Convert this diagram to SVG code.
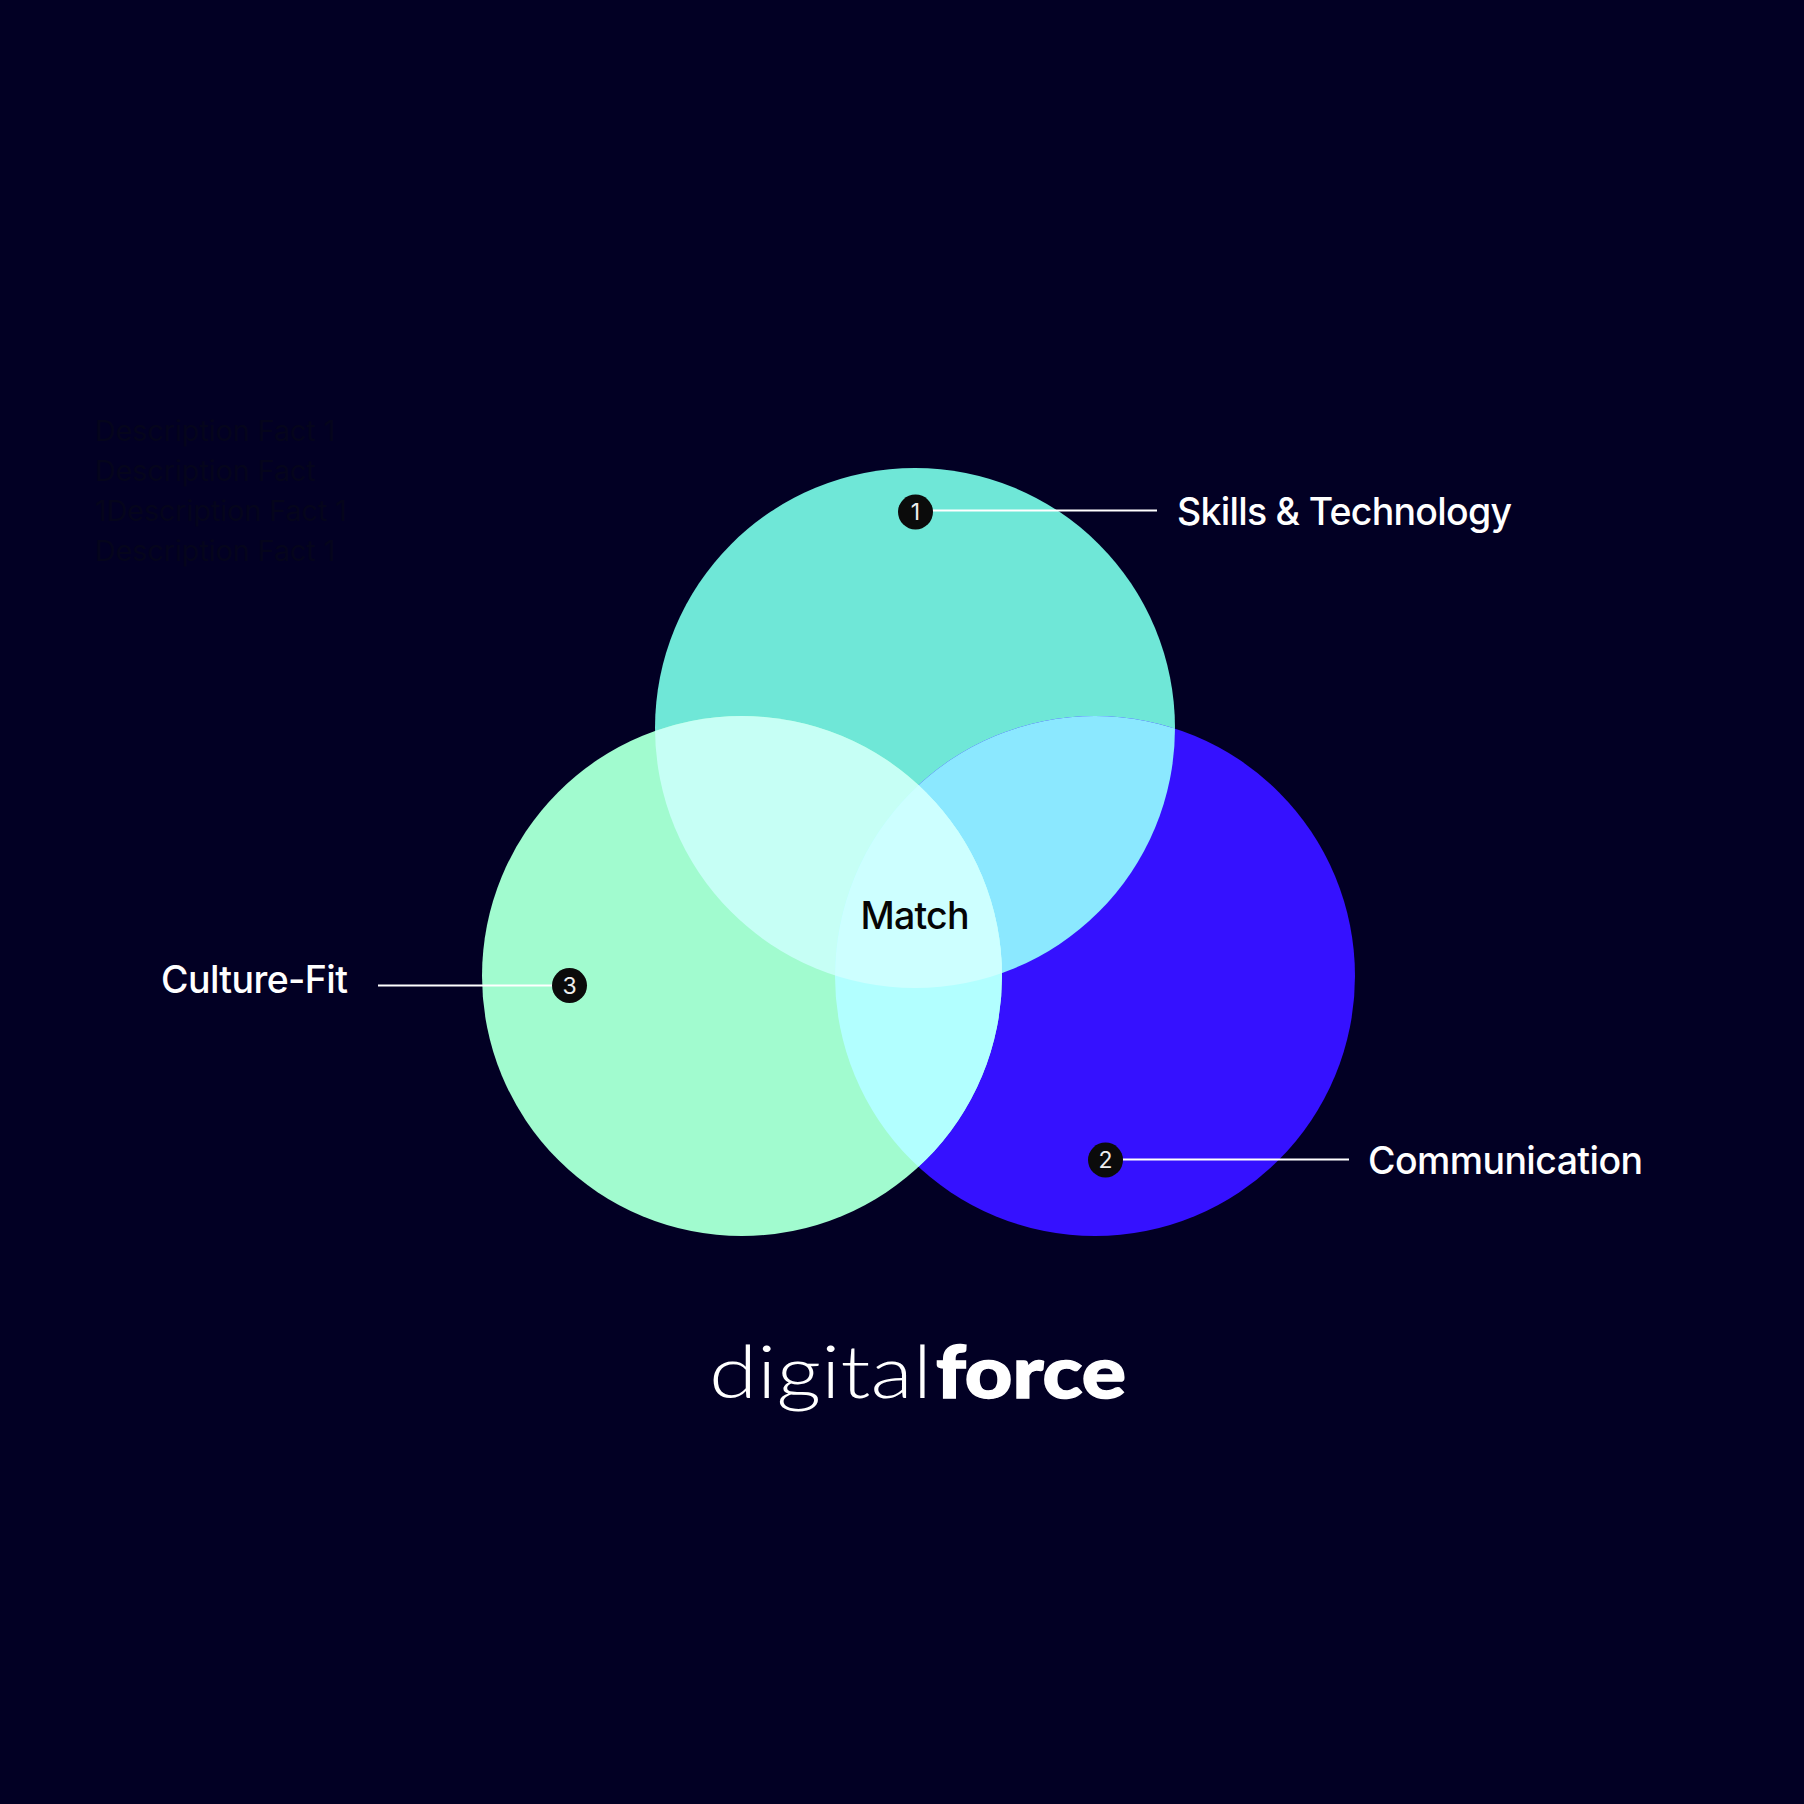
<svg xmlns="http://www.w3.org/2000/svg" width="1804" height="1804" viewBox="0 0 1804 1804">
<style>
.lab{font-family:Inter,"Liberation Sans",sans-serif;font-size:37.5px;fill:#fff;font-weight:500}
.num{font-family:Inter,"Liberation Sans",sans-serif;font-size:23px;fill:#eee;text-anchor:middle}
.bad{fill:#0b0b0b}
.lead{stroke:#fff;stroke-width:2;fill:none}
.desc{font-family:Inter,"Liberation Sans",sans-serif;font-size:28.600px;fill:#05051c}
</style>
<defs>
<clipPath id="cT"><circle cx="915" cy="728" r="260"/></clipPath>
<clipPath id="cR"><circle cx="1095" cy="976" r="260"/></clipPath>
</defs>
<rect width="1804" height="1804" fill="#020024"/>
<g id="description"><text class="desc" x="95" y="441">Description Fact 1</text><text class="desc" x="95" y="481">Description Fact</text><text class="desc" x="95" y="521">1Description Fact 1</text><text class="desc" x="95" y="561">Description Fact 1</text></g>
<g id="venn">
<circle id="circle-skills" cx="915" cy="728" r="260" fill="#6FE7D7"/>
<circle id="circle-communication" cx="1095" cy="976" r="260" fill="#3511FF"/>
<circle id="circle-culture" cx="742" cy="976" r="260" fill="#A1FBCF"/>
<g clip-path="url(#cT)"><circle cx="1095" cy="976" r="260" fill="#8BE8FF"/><circle cx="742" cy="976" r="260" fill="#C6FFF5"/></g>
<g clip-path="url(#cR)"><circle cx="742" cy="976" r="260" fill="#B2FFFF"/></g>
<g clip-path="url(#cT)"><g clip-path="url(#cR)"><circle cx="742" cy="976" r="260" fill="#CDFFFF"/></g></g>
</g>
<g id="connectors">
<line class="lead" x1="930" y1="510.500" x2="1157" y2="510.500"/>
<line class="lead" x1="1120" y1="1159.500" x2="1349" y2="1159.500"/>
<line class="lead" x1="378" y1="985.500" x2="555" y2="985.500"/>
</g>
<g id="node-1"><circle class="bad" cx="915.500" cy="512" r="17.500"/><text class="num" x="915.500" y="520">1</text><text class="lab" x="1177" y="525" textLength="335">Skills &amp; Technology</text></g>
<g id="node-2"><circle class="bad" cx="1105.500" cy="1160" r="17.500"/><text class="num" x="1105.500" y="1168">2</text><text class="lab" x="1368" y="1174" textLength="275">Communication</text></g>
<g id="node-3"><circle class="bad" cx="569.500" cy="985.500" r="17.500"/><text class="num" x="569.500" y="993.500">3</text><text class="lab" x="161" y="993" textLength="187">Culture-Fit</text></g>
<g id="node-match"><text x="915" y="929" text-anchor="middle" font-family="Inter,'Liberation Sans',sans-serif" font-size="37.5" font-weight="500" textLength="109" fill="#050505">Match</text></g>
<g id="logo"><text x="709" y="1398" font-family="Lato,'Open Sans',sans-serif" font-weight="300" font-size="73" fill="#fff" textLength="223" lengthAdjust="spacingAndGlyphs">digital</text><text x="936" y="1398" font-family="Lato,'Open Sans',sans-serif" font-weight="900" font-size="73" fill="#fff" stroke="#fff" stroke-width="1.500" textLength="190" lengthAdjust="spacingAndGlyphs">force</text></g>
</svg>
